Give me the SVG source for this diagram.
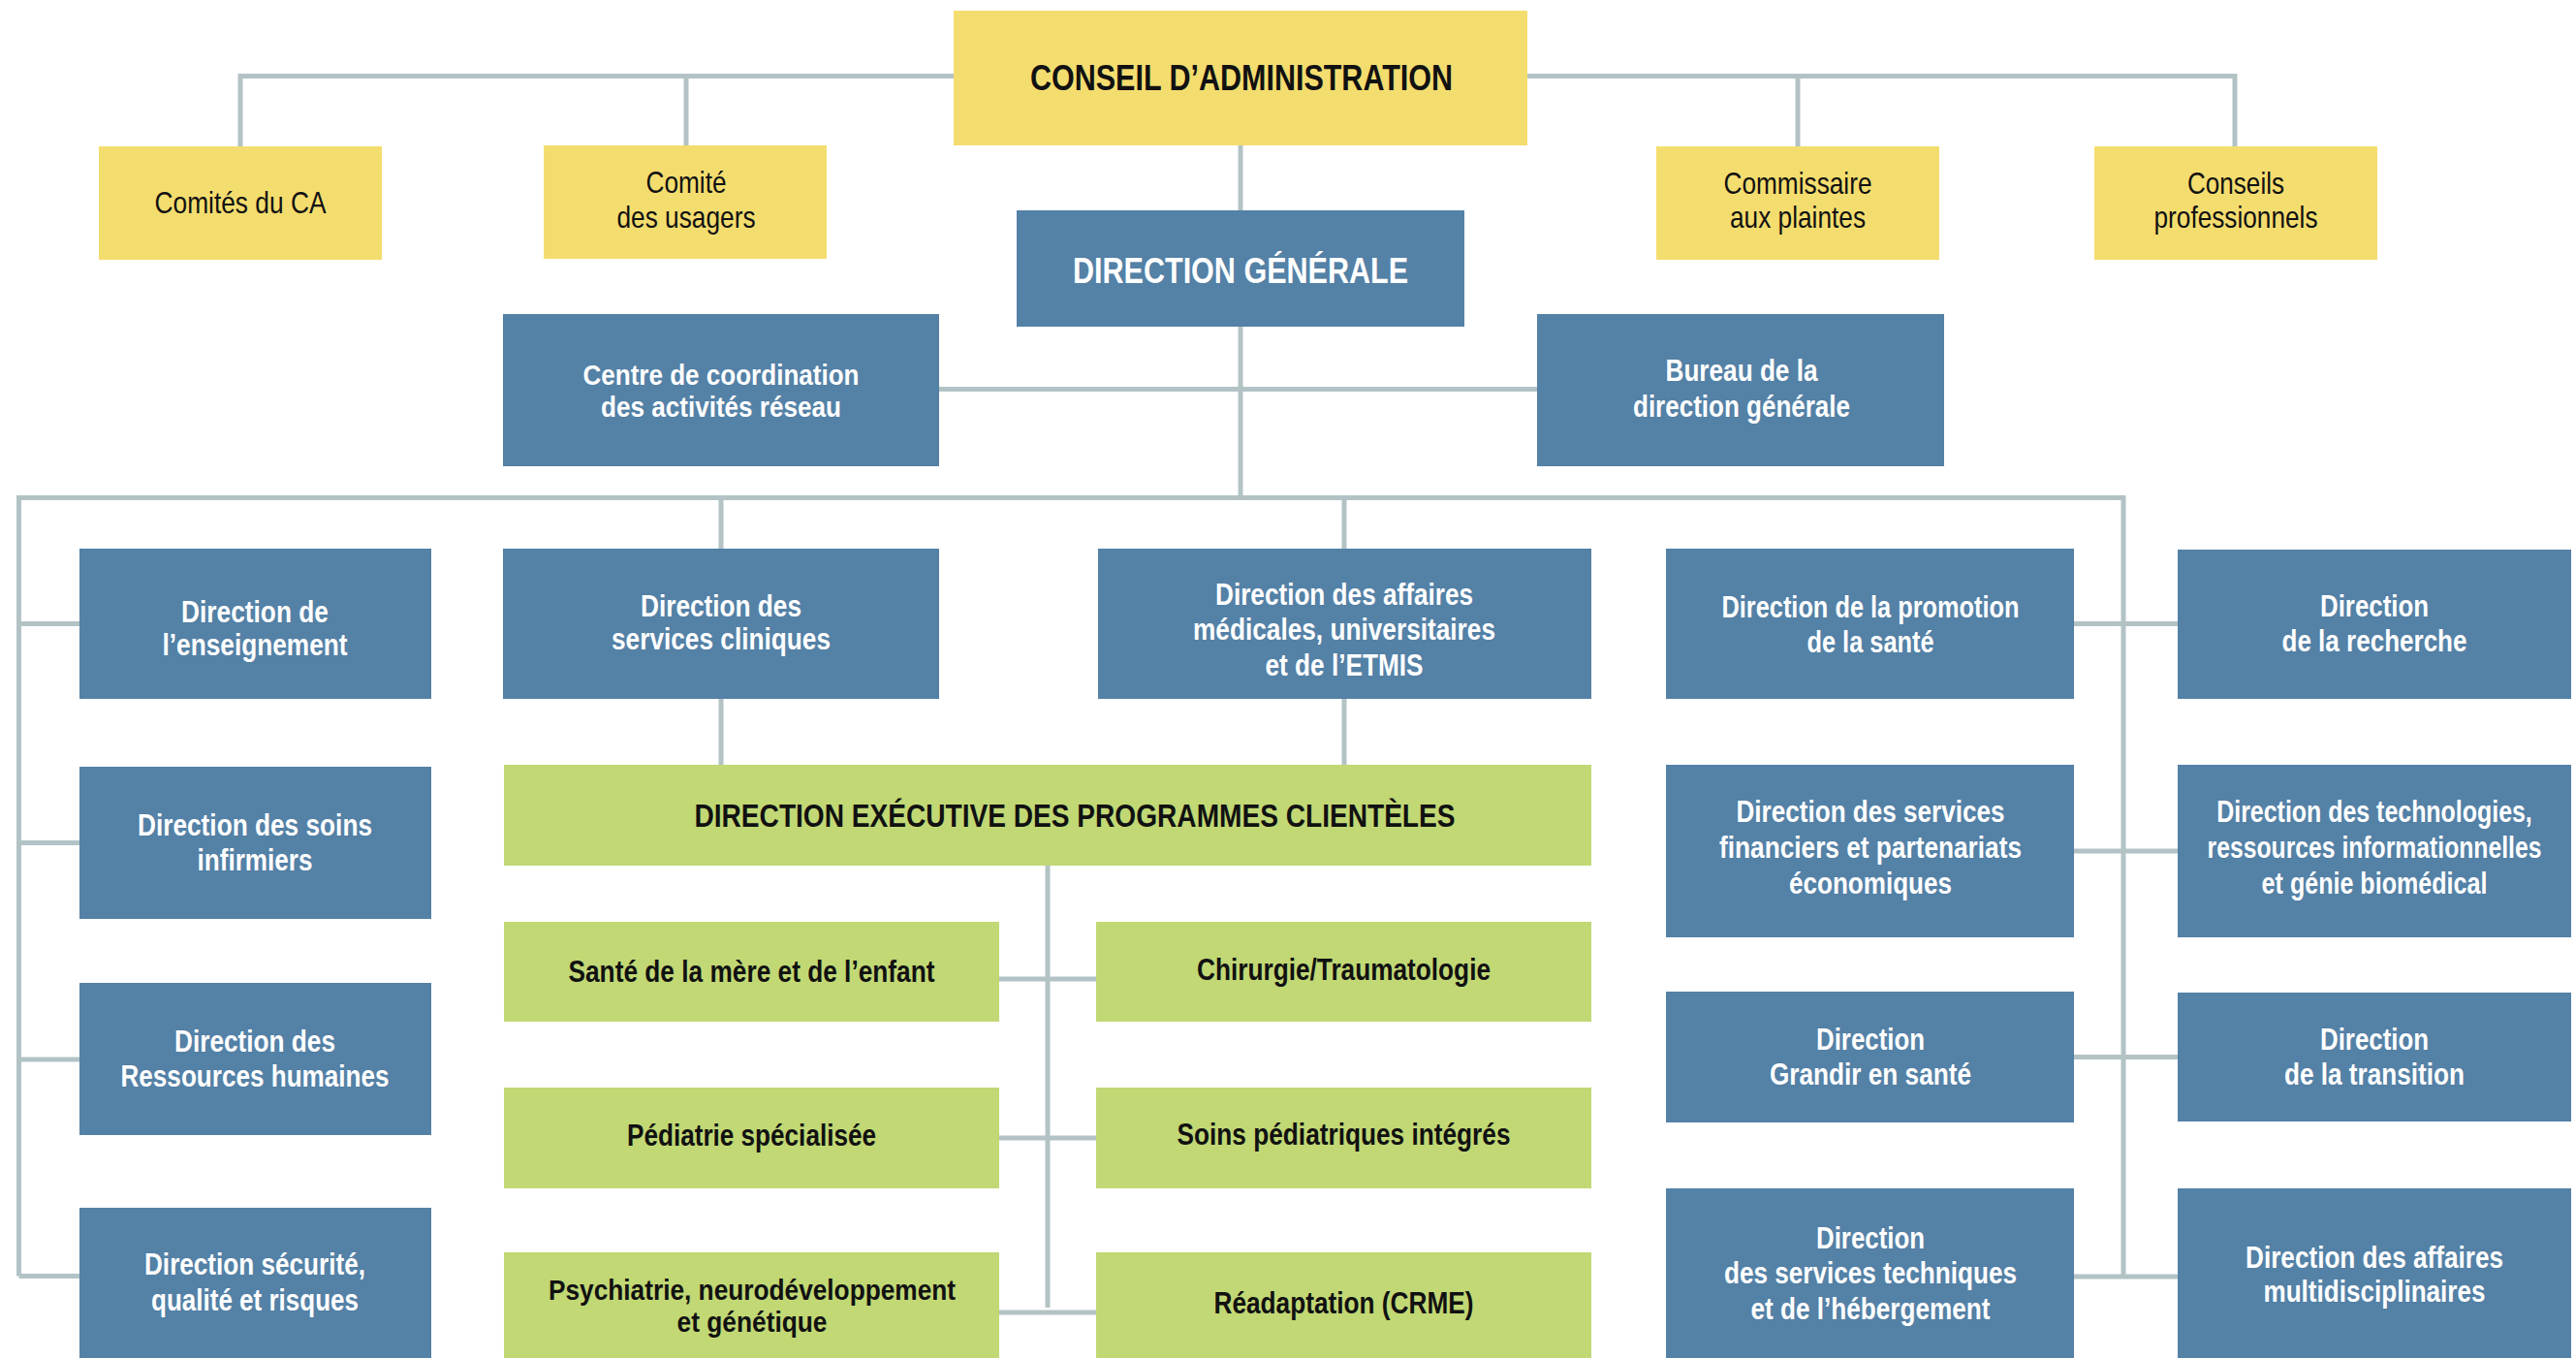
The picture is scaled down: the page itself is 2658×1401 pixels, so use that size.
<svg xmlns="http://www.w3.org/2000/svg" width="2658" height="1401" viewBox="0 0 2658 1401">
<style>
.y{fill:#F4DD6F}
.b{fill:#5481A6}
.g{fill:#C1D875}
.conn{stroke:#B3C3C5;stroke-width:5;fill:none;stroke-linejoin:miter;stroke-linecap:butt}
text{font-family:"Liberation Sans",Arial,sans-serif;text-anchor:middle}
.ty{font-size:32px;fill:#111}
.tb{font-size:31px;font-weight:bold;fill:#fff}
.tg{font-size:32px;font-weight:bold;fill:#111}
.th{font-size:37px;font-weight:bold}
.sm{font-size:29px}
</style>
<rect width="2658" height="1401" fill="#fff"/>
<g id="connectors">
<path class="conn" d="M248,151 V78.5 H2306 V151"/>
<path class="conn" d="M708,78.5 V150"/>
<path class="conn" d="M1855,78.5 V151"/>
<path class="conn" d="M1280,150 V217"/>
<path class="conn" d="M1280,337 V513.5"/>
<path class="conn" d="M969,401.5 H1587"/>
<path class="conn" d="M19.5,1316.5 V513.5 H2191 V1317"/>
<path class="conn" d="M19.5,643.5 H82 M19.5,869.5 H82 M19.5,1093 H82 M19.5,1316.5 H82"/>
<path class="conn" d="M744,513.5 V566 M1387,513.5 V566 M744,721 V789 M1387,721 V789"/>
<path class="conn" d="M2140,643.5 H2247 M2140,878 H2247 M2140,1090.5 H2247 M2140,1317 H2247"/>
<path class="conn" d="M1081,893 V1349 M1031,1010 H1131 M1031,1174 H1131 M1031,1354 H1131"/>
</g>
<g id="ca"><rect class="y" x="984" y="11" width="592" height="139"/><text class="th" x="1281" y="93" fill="#111" textLength="436" lengthAdjust="spacingAndGlyphs">CONSEIL D’ADMINISTRATION</text></g>
<g id="comites-ca"><rect class="y" x="102" y="151" width="292" height="117"/><text class="ty" x="248" y="220" textLength="177" lengthAdjust="spacingAndGlyphs">Comités du CA</text></g>
<g id="comite-usagers"><rect class="y" x="561" y="150" width="292" height="117"/><text class="ty" x="708" y="199" textLength="83" lengthAdjust="spacingAndGlyphs">Comité</text><text class="ty" x="708" y="235" textLength="143" lengthAdjust="spacingAndGlyphs">des usagers</text></g>
<g id="commissaire"><rect class="y" x="1709" y="151" width="292" height="117"/><text class="ty" x="1855" y="200" textLength="153" lengthAdjust="spacingAndGlyphs">Commissaire</text><text class="ty" x="1855" y="235" textLength="140" lengthAdjust="spacingAndGlyphs">aux plaintes</text></g>
<g id="conseils"><rect class="y" x="2161" y="151" width="292" height="117"/><text class="ty" x="2307" y="200" textLength="100" lengthAdjust="spacingAndGlyphs">Conseils</text><text class="ty" x="2307" y="235" textLength="169" lengthAdjust="spacingAndGlyphs">professionnels</text></g>
<g id="dg"><rect class="b" x="1049" y="217" width="462" height="120"/><text class="th" x="1280" y="292" fill="#fff" textLength="346" lengthAdjust="spacingAndGlyphs">DIRECTION GÉNÉRALE</text></g>
<g id="centre-coordination"><rect class="b" x="519" y="324" width="450" height="157"/><text class="tb sm" x="744" y="397" textLength="285" lengthAdjust="spacingAndGlyphs">Centre de coordination</text><text class="tb sm" x="744" y="430" textLength="248" lengthAdjust="spacingAndGlyphs">des activités réseau</text></g>
<g id="bureau-dg"><rect class="b" x="1586" y="324" width="420" height="157"/><text class="tb" x="1797" y="393" textLength="157" lengthAdjust="spacingAndGlyphs">Bureau de la</text><text class="tb" x="1797" y="430" textLength="224" lengthAdjust="spacingAndGlyphs">direction générale</text></g>
<g id="enseignement"><rect class="b" x="82" y="566" width="363" height="155"/><text class="tb" x="263" y="642" textLength="152" lengthAdjust="spacingAndGlyphs">Direction de</text><text class="tb" x="263" y="676" textLength="191" lengthAdjust="spacingAndGlyphs">l’enseignement</text></g>
<g id="services-cliniques"><rect class="b" x="519" y="566" width="450" height="155"/><text class="tb" x="744" y="636" textLength="166" lengthAdjust="spacingAndGlyphs">Direction des</text><text class="tb" x="744" y="670" textLength="226" lengthAdjust="spacingAndGlyphs">services cliniques</text></g>
<g id="damu"><rect class="b" x="1133" y="566" width="509" height="155"/><text class="tb" x="1387" y="624" textLength="266" lengthAdjust="spacingAndGlyphs">Direction des affaires</text><text class="tb" x="1387" y="660" textLength="312" lengthAdjust="spacingAndGlyphs">médicales, universitaires</text><text class="tb" x="1387" y="697" textLength="163" lengthAdjust="spacingAndGlyphs">et de l’ETMIS</text></g>
<g id="promotion"><rect class="b" x="1719" y="566" width="421" height="155"/><text class="tb" x="1930" y="637" textLength="307" lengthAdjust="spacingAndGlyphs">Direction de la promotion</text><text class="tb" x="1930" y="673" textLength="131" lengthAdjust="spacingAndGlyphs">de la santé</text></g>
<g id="recherche"><rect class="b" x="2247" y="567" width="406" height="154"/><text class="tb" x="2450" y="636" textLength="112" lengthAdjust="spacingAndGlyphs">Direction</text><text class="tb" x="2450" y="672" textLength="191" lengthAdjust="spacingAndGlyphs">de la recherche</text></g>
<g id="depc"><rect class="g" x="520" y="789" width="1122" height="104"/><text x="1109" y="853" font-size="34" font-weight="bold" fill="#111" textLength="785" lengthAdjust="spacingAndGlyphs">DIRECTION EXÉCUTIVE DES PROGRAMMES CLIENTÈLES</text></g>
<g id="soins-infirmiers"><rect class="b" x="82" y="791" width="363" height="157"/><text class="tb" x="263" y="862" textLength="242" lengthAdjust="spacingAndGlyphs">Direction des soins</text><text class="tb" x="263" y="898" textLength="119" lengthAdjust="spacingAndGlyphs">infirmiers</text></g>
<g id="financiers"><rect class="b" x="1719" y="789" width="421" height="178"/><text class="tb" x="1930" y="848" textLength="277" lengthAdjust="spacingAndGlyphs">Direction des services</text><text class="tb" x="1930" y="885" textLength="312" lengthAdjust="spacingAndGlyphs">financiers et partenariats</text><text class="tb" x="1930" y="922" textLength="168" lengthAdjust="spacingAndGlyphs">économiques</text></g>
<g id="technologies"><rect class="b" x="2247" y="789" width="406" height="178"/><text class="tb" transform="translate(2450 0) scale(0.8 1)" x="0" y="848" textLength="407" lengthAdjust="spacingAndGlyphs">Direction des technologies,</text><text class="tb" transform="translate(2450 0) scale(0.8 1)" x="0" y="885" textLength="431" lengthAdjust="spacingAndGlyphs">ressources informationnelles</text><text class="tb" transform="translate(2450 0) scale(0.8 1)" x="0" y="922" textLength="291" lengthAdjust="spacingAndGlyphs">et génie biomédical</text></g>
<g id="sante-mere-enfant"><rect class="g" x="520" y="951" width="511" height="103"/><text class="tg" x="775.5" y="1013" textLength="378" lengthAdjust="spacingAndGlyphs">Santé de la mère et de l’enfant</text></g>
<g id="chirurgie"><rect class="g" x="1131" y="951" width="511" height="103"/><text class="tg" x="1386.5" y="1011" textLength="303" lengthAdjust="spacingAndGlyphs">Chirurgie/Traumatologie</text></g>
<g id="rh"><rect class="b" x="82" y="1014" width="363" height="157"/><text class="tb" x="263" y="1085" textLength="166" lengthAdjust="spacingAndGlyphs">Direction des</text><text class="tb" x="263" y="1121" textLength="277" lengthAdjust="spacingAndGlyphs">Ressources humaines</text></g>
<g id="grandir"><rect class="b" x="1719" y="1023" width="421" height="135"/><text class="tb" x="1930" y="1083" textLength="112" lengthAdjust="spacingAndGlyphs">Direction</text><text class="tb" x="1930" y="1119" textLength="208" lengthAdjust="spacingAndGlyphs">Grandir en santé</text></g>
<g id="transition"><rect class="b" x="2247" y="1024" width="406" height="133"/><text class="tb" x="2450" y="1083" textLength="112" lengthAdjust="spacingAndGlyphs">Direction</text><text class="tb" x="2450" y="1119" textLength="186" lengthAdjust="spacingAndGlyphs">de la transition</text></g>
<g id="pediatrie-specialisee"><rect class="g" x="520" y="1122" width="511" height="104"/><text class="tg" x="775.5" y="1182" textLength="257" lengthAdjust="spacingAndGlyphs">Pédiatrie spécialisée</text></g>
<g id="soins-pediatriques"><rect class="g" x="1131" y="1122" width="511" height="104"/><text class="tg" x="1386.5" y="1181" textLength="344" lengthAdjust="spacingAndGlyphs">Soins pédiatriques intégrés</text></g>
<g id="securite"><rect class="b" x="82" y="1246" width="363" height="165"/><text class="tb" x="263" y="1315" textLength="228" lengthAdjust="spacingAndGlyphs">Direction sécurité,</text><text class="tb" x="263" y="1352" textLength="214" lengthAdjust="spacingAndGlyphs">qualité et risques</text></g>
<g id="services-techniques"><rect class="b" x="1719" y="1226" width="421" height="185"/><text class="tb" x="1930" y="1288" textLength="112" lengthAdjust="spacingAndGlyphs">Direction</text><text class="tb" x="1930" y="1324" textLength="302" lengthAdjust="spacingAndGlyphs">des services techniques</text><text class="tb" x="1930" y="1361" textLength="247" lengthAdjust="spacingAndGlyphs">et de l’hébergement</text></g>
<g id="multidisciplinaires"><rect class="b" x="2247" y="1226" width="406" height="185"/><text class="tb" x="2450" y="1308" textLength="266" lengthAdjust="spacingAndGlyphs">Direction des affaires</text><text class="tb" x="2450" y="1343" textLength="229" lengthAdjust="spacingAndGlyphs">multidisciplinaires</text></g>
<g id="psychiatrie"><rect class="g" x="520" y="1292" width="511" height="119"/><text class="tg sm" x="776" y="1341" textLength="420" lengthAdjust="spacingAndGlyphs">Psychiatrie, neurodéveloppement</text><text class="tg sm" x="776" y="1374" textLength="155" lengthAdjust="spacingAndGlyphs">et génétique</text></g>
<g id="readaptation"><rect class="g" x="1131" y="1292" width="511" height="119"/><text class="tg" x="1386.5" y="1355" textLength="268" lengthAdjust="spacingAndGlyphs">Réadaptation (CRME)</text></g>
</svg>
